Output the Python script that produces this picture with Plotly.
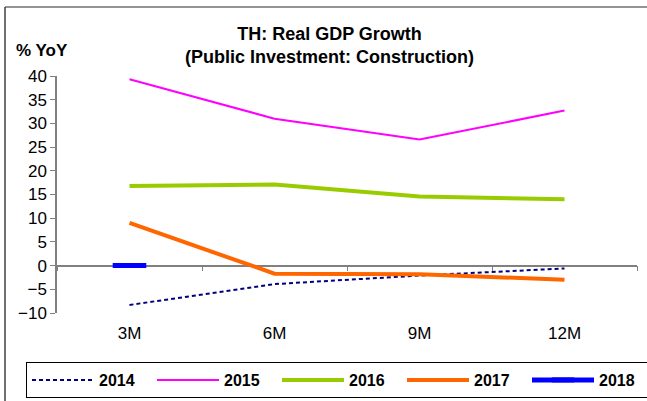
import plotly.graph_objects as go

# Cumulative period and growth by year (% YoY)
periods = ["3M", "6M", "9M", "12M"]
y2014 = [-8.3, -3.9, -2.1, -0.6]
y2015 = [39.3, 31.0, 26.6, 32.7]
y2016 = [16.8, 17.1, 14.6, 14.0]
y2017 = [9.0, -1.7, -1.8, -3.0]
y2018 = [0.0]

W, H = 647, 401
L, R, T, B = 57, 10, 76, 88
pw, ph = W - L - R, H - T - B
ymin, ymax = -10, 40


def px(x):
    return (x - L) / pw


def py(y):
    return (H - B - y) / ph


FONT = "Arial, 'Liberation Sans', sans-serif"

fig = go.Figure()
fig.add_trace(go.Scatter(x=periods, y=y2014, name="2014", mode="lines",
                         line=dict(color="#000080", width=2, dash="4px,3px")))
fig.add_trace(go.Scatter(x=periods, y=y2015, name="2015", mode="lines",
                         line=dict(color="#FF00FF", width=2)))
fig.add_trace(go.Scatter(x=periods, y=y2016, name="2016", mode="lines",
                         line=dict(color="#99CC00", width=4)))
fig.add_trace(go.Scatter(x=periods, y=y2017, name="2017", mode="lines",
                         line=dict(color="#FF6600", width=4)))
# 2018 sits on the axis that also carries the zero line with its category ticks
fig.add_trace(go.Scatter(x=periods[:len(y2018)], y=y2018, name="2018", mode="lines+markers",
                         xaxis="x2",
                         line=dict(color="#0000FF", width=5),
                         marker=dict(symbol="line-ew", size=24, color="#0000FF",
                                     line=dict(color="#0000FF", width=5))))

zero_pos = (0 - ymin) / (ymax - ymin)

fig.update_layout(
    width=W, height=H,
    margin=dict(l=L, r=R, t=T, b=B, autoexpand=False),
    paper_bgcolor="white", plot_bgcolor="white",
    font=dict(family=FONT, color="black", size=17),
    showlegend=True,
    legend=dict(orientation="h", x=px(26), y=py(362), xanchor="left", yanchor="top",
                bordercolor="black", borderwidth=1, bgcolor="white",
                font=dict(size=16, weight="bold"),
                itemwidth=62, entrywidth=48, entrywidthmode="pixels",
                tracegroupgap=0),
    xaxis=dict(type="category", categoryarray=periods, categoryorder="array",
               range=[-0.5, 3.5], showgrid=False, showline=False,
               zeroline=False, ticks="outside", ticklen=5, tickcolor="rgba(0,0,0,0)",
               tickfont=dict(size=17)),
    xaxis2=dict(type="category", categoryarray=periods, categoryorder="array",
                overlaying="x", anchor="free", position=zero_pos, range=[-0.5, 3.5],
                tickson="boundaries", showticklabels=False, layer="below traces",
                ticks="outside", ticklen=5, tickcolor="#808080", showline=True,
                linecolor="#808080", linewidth=1.5, showgrid=False, zeroline=False),
    yaxis=dict(range=[ymin, ymax], dtick=5, showgrid=False, zeroline=False,
               showline=True, linecolor="#808080", linewidth=1.5,
               ticks="outside", ticklen=5, tickcolor="#808080",
               tickfont=dict(size=17)),
)

# outer frame: top and left edges
fig.add_shape(type="line", xref="paper", yref="paper",
              x0=px(5), x1=px(700), y0=py(7), y1=py(7),
              line=dict(color="#707070", width=1.5), layer="below")
fig.add_shape(type="line", xref="paper", yref="paper",
              x0=px(5), x1=px(5), y0=py(7), y1=py(600),
              line=dict(color="#404040", width=1.5), layer="below")

fig.add_annotation(text="<b>TH: Real GDP Growth<br>(Public Investment: Construction)</b>",
                   xref="paper", yref="paper", x=px(329), y=py(45),
                   xanchor="center", yanchor="middle", showarrow=False,
                   font=dict(size=18, family=FONT))
fig.add_annotation(text="<b>% YoY</b>", xref="paper", yref="paper",
                   x=px(14), y=py(51), xanchor="left", yanchor="middle",
                   showarrow=False, font=dict(size=17, family=FONT))

fig.write_html("out.html")
